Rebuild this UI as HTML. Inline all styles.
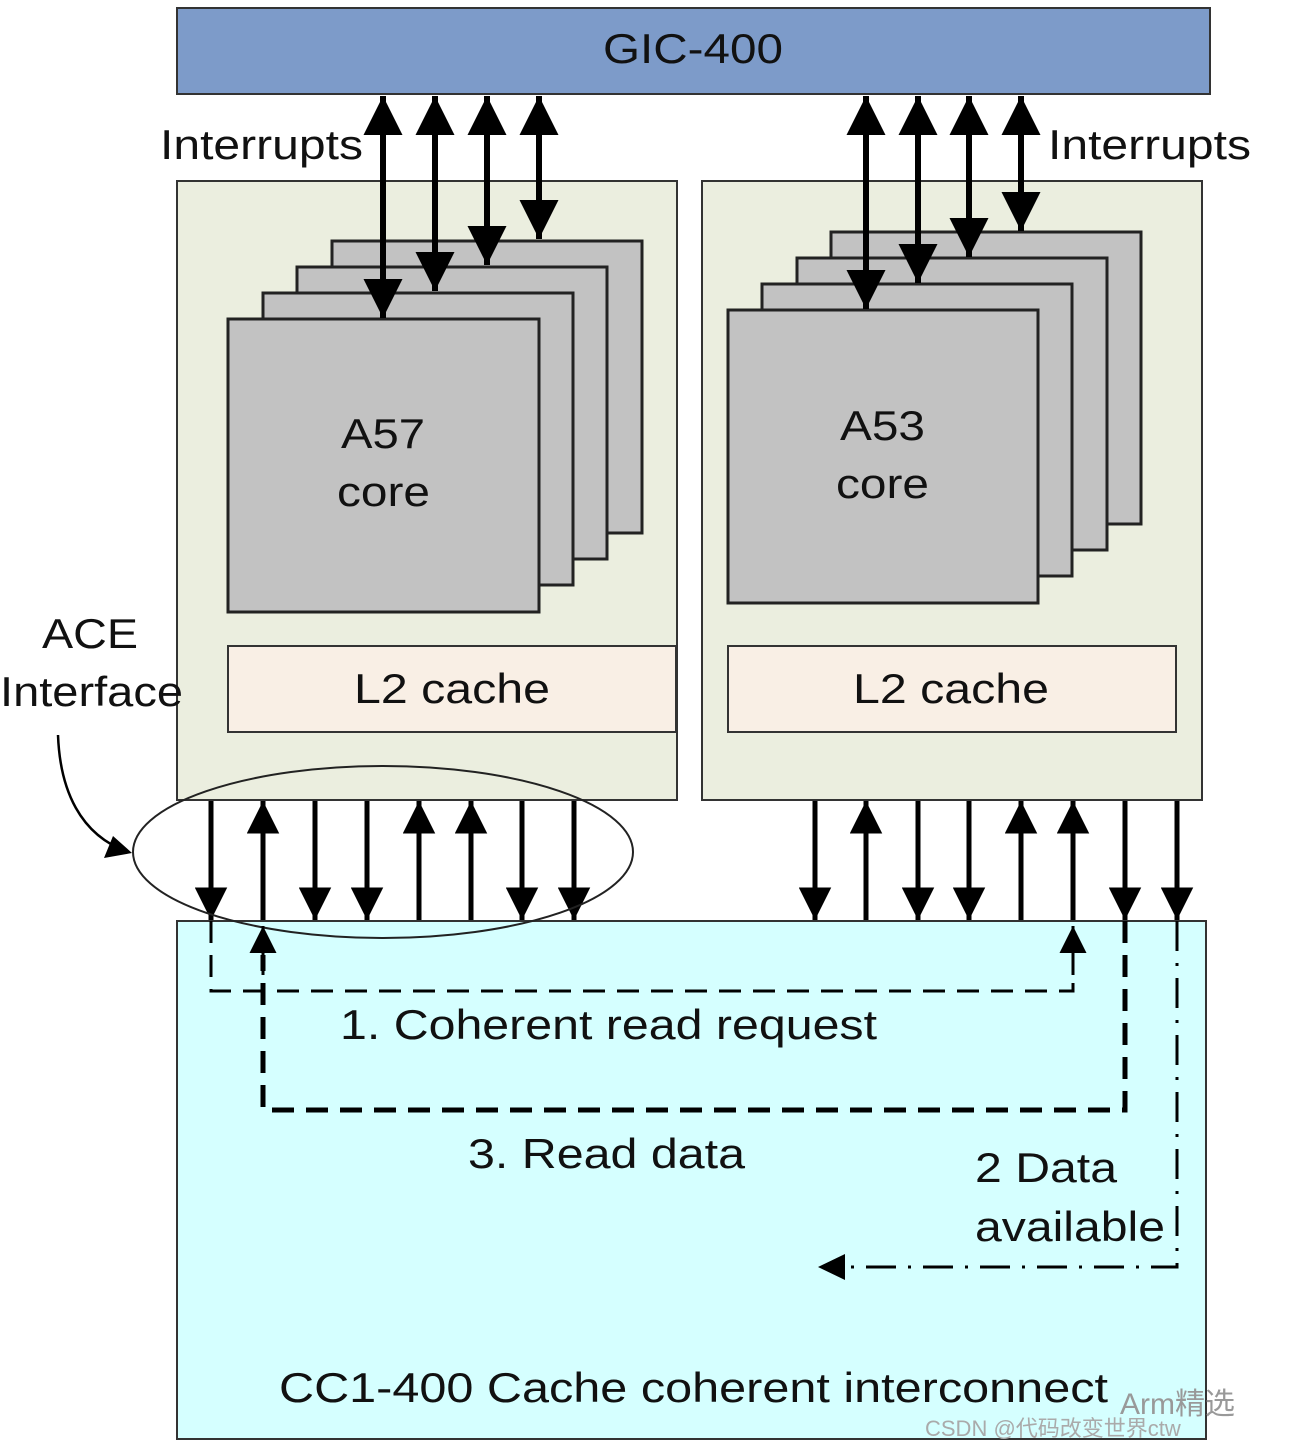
<!DOCTYPE html>
<html><head><meta charset="utf-8"><style>
html,body{margin:0;padding:0;background:#fff;}
svg{display:block;}
text{font-family:"Liberation Sans","Noto Sans CJK SC",sans-serif;fill:#111;}
</style></head><body>
<svg width="1300" height="1448" viewBox="0 0 1300 1448" xmlns="http://www.w3.org/2000/svg">
<defs>
<marker id="ah" viewBox="0 0 10 10" refX="10" refY="5" markerWidth="6.5" markerHeight="6.5" orient="auto-start-reverse" markerUnits="strokeWidth">
<path d="M0,0 L10,5 L0,10 z" fill="#000"/></marker>
<marker id="ahs" viewBox="0 0 10 10" refX="10" refY="5" markerWidth="9" markerHeight="9" orient="auto-start-reverse" markerUnits="strokeWidth">
<path d="M0,0 L10,5 L0,10 z" fill="#000"/></marker>
</defs>
<rect x="177" y="8" width="1033" height="86" fill="#7d9bc9" stroke="#333" stroke-width="2"/>
<text x="603" y="63" font-size="42" textLength="180" lengthAdjust="spacingAndGlyphs">GIC-400</text>
<rect x="177" y="181" width="500" height="619" fill="#ebeedf" stroke="#333" stroke-width="2"/>
<rect x="702" y="181" width="500" height="619" fill="#ebeedf" stroke="#333" stroke-width="2"/>
<g fill="#c2c2c2" stroke="#222" stroke-width="3">
<rect x="332" y="241" width="310" height="292"/>
<rect x="297" y="267" width="310" height="292"/>
<rect x="263" y="293" width="310" height="292"/>
<rect x="228" y="319" width="311" height="293"/>
<rect x="831" y="232" width="310" height="292"/>
<rect x="797" y="258" width="310" height="292"/>
<rect x="762" y="284" width="310" height="292"/>
<rect x="728" y="310" width="310" height="293"/>
</g>
<text x="341" y="448" font-size="42" textLength="84" lengthAdjust="spacingAndGlyphs">A57</text>
<text x="337" y="506" font-size="42" textLength="93" lengthAdjust="spacingAndGlyphs">core</text>
<text x="840" y="440" font-size="42" textLength="85" lengthAdjust="spacingAndGlyphs">A53</text>
<text x="836" y="498" font-size="42" textLength="93" lengthAdjust="spacingAndGlyphs">core</text>
<rect x="228" y="646" width="448" height="86" fill="#f9efe5" stroke="#333" stroke-width="2"/>
<rect x="728" y="646" width="448" height="86" fill="#f9efe5" stroke="#333" stroke-width="2"/>
<text x="354" y="703" font-size="42" textLength="196" lengthAdjust="spacingAndGlyphs">L2 cache</text>
<text x="853" y="703" font-size="42" textLength="196" lengthAdjust="spacingAndGlyphs">L2 cache</text>
<rect x="177" y="921" width="1029" height="518" fill="#d5ffff" stroke="#333" stroke-width="2"/>
<g stroke="#000" stroke-width="6" marker-start="url(#ah)" marker-end="url(#ah)">
<line x1="383" y1="96" x2="383" y2="318"/>
<line x1="435" y1="96" x2="435" y2="291"/>
<line x1="487" y1="96" x2="487" y2="265"/>
<line x1="539" y1="96" x2="539" y2="239"/>
<line x1="866" y1="96" x2="866" y2="309"/>
<line x1="918" y1="96" x2="918" y2="283"/>
<line x1="969" y1="96" x2="969" y2="257"/>
<line x1="1021" y1="96" x2="1021" y2="231"/>
</g>
<text x="160" y="159" font-size="42" textLength="203" lengthAdjust="spacingAndGlyphs">Interrupts</text>
<text x="1048" y="159" font-size="42" textLength="203" lengthAdjust="spacingAndGlyphs">Interrupts</text>
<g stroke="#000" stroke-width="5">
<line x1="211" y1="801" x2="211" y2="920" marker-end="url(#ah)"/>
<line x1="263" y1="920" x2="263" y2="801" marker-end="url(#ah)"/>
<line x1="315" y1="801" x2="315" y2="920" marker-end="url(#ah)"/>
<line x1="367" y1="801" x2="367" y2="920" marker-end="url(#ah)"/>
<line x1="419" y1="920" x2="419" y2="801" marker-end="url(#ah)"/>
<line x1="471" y1="920" x2="471" y2="801" marker-end="url(#ah)"/>
<line x1="522" y1="801" x2="522" y2="920" marker-end="url(#ah)"/>
<line x1="574" y1="801" x2="574" y2="920" marker-end="url(#ah)"/>
<line x1="815" y1="801" x2="815" y2="920" marker-end="url(#ah)"/>
<line x1="866" y1="920" x2="866" y2="801" marker-end="url(#ah)"/>
<line x1="918" y1="801" x2="918" y2="920" marker-end="url(#ah)"/>
<line x1="969" y1="801" x2="969" y2="920" marker-end="url(#ah)"/>
<line x1="1021" y1="920" x2="1021" y2="801" marker-end="url(#ah)"/>
<line x1="1073" y1="920" x2="1073" y2="801" marker-end="url(#ah)"/>
<line x1="1125" y1="801" x2="1125" y2="920" marker-end="url(#ah)"/>
<line x1="1177" y1="801" x2="1177" y2="920" marker-end="url(#ah)"/>
</g>
<ellipse cx="383" cy="852" rx="250" ry="86" fill="none" stroke="#222" stroke-width="2"/>
<path d="M58,735 C60,790 80,835 128,852" fill="none" stroke="#000" stroke-width="2.5"/>
<polygon points="132,853 104,858 113,836" fill="#000"/>
<text x="42" y="648" font-size="42" textLength="96" lengthAdjust="spacingAndGlyphs">ACE</text>
<text x="0" y="706" font-size="42" textLength="183" lengthAdjust="spacingAndGlyphs">Interface</text>
<path d="M211,921 V991 H1073 V955" fill="none" stroke="#000" stroke-width="3" stroke-dasharray="22,12"/>
<line x1="1073" y1="975" x2="1073" y2="926" stroke="#000" stroke-width="3" marker-end="url(#ahs)"/>
<path d="M1125,921 V1110 H263 V955" fill="none" stroke="#000" stroke-width="5" stroke-dasharray="22,12"/>
<line x1="263" y1="975" x2="263" y2="926" stroke="#000" stroke-width="3" marker-end="url(#ahs)"/>
<path d="M1177,921 V1267 H850" fill="none" stroke="#000" stroke-width="3" stroke-dasharray="30,12,3,12"/>
<polygon points="818,1267 845,1254 845,1280" fill="#000"/>
<text x="340" y="1039" font-size="42" textLength="537" lengthAdjust="spacingAndGlyphs">1. Coherent read request</text>
<text x="468" y="1168" font-size="42" textLength="277" lengthAdjust="spacingAndGlyphs">3. Read data</text>
<text x="975" y="1182" font-size="42" textLength="142" lengthAdjust="spacingAndGlyphs">2 Data</text>
<text x="975" y="1241" font-size="42" textLength="190" lengthAdjust="spacingAndGlyphs">available</text>
<text x="279" y="1402" font-size="42" textLength="829" lengthAdjust="spacingAndGlyphs">CC1-400 Cache coherent interconnect</text>
<text x="1120" y="1414" font-size="30" style="fill:#999">Arm精选</text>
<text x="925" y="1436" font-size="22" style="fill:#aaa">CSDN @代码改变世界ctw</text>
</svg>
</body></html>
